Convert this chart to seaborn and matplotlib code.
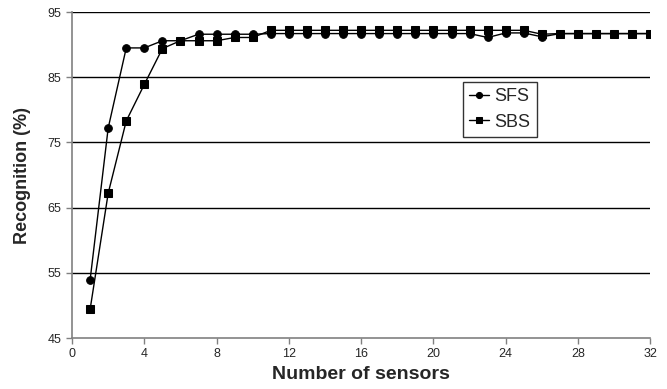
import matplotlib
matplotlib.use("Agg")
import matplotlib.pyplot as plt
import numpy as np
import pandas as pd
import seaborn as sns

# number of sensors selected
n_sensors = list(range(1, 33))

# recognition rate (%)
sfs = [53.9, 77.2, 89.5, 89.5, 90.6, 90.6, 91.6, 91.6, 91.6, 91.6,
       91.7, 91.7, 91.7, 91.7, 91.7, 91.7, 91.7, 91.7, 91.7, 91.7,
       91.7, 91.7, 91.1, 91.8, 91.8, 91.2, 91.7, 91.7, 91.7, 91.7,
       91.7, 91.7]
sbs = [49.4, 67.2, 78.3, 83.9, 89.4, 90.6, 90.6, 90.6, 91.1, 91.1,
       92.2, 92.2, 92.2, 92.2, 92.2, 92.2, 92.2, 92.2, 92.2, 92.2,
       92.2, 92.2, 92.2, 92.2, 92.2, 91.6, 91.7, 91.7, 91.7, 91.7,
       91.7, 91.7]

x_ticks = list(range(0, 33, 4))
y_ticks = [45, 55, 65, 75, 85, 95]

df = pd.DataFrame({
    "sensors": n_sensors * 2,
    "recognition": sfs + sbs,
    "method": ["SFS"] * len(sfs) + ["SBS"] * len(sbs),
})

sns.set_style("white")
plt.rcParams["font.family"] = ["Liberation Sans", "DejaVu Sans"]

fig = plt.figure(figsize=(6.67, 3.89), dpi=100)
ax = fig.add_axes([0.108, 0.131, 0.867, 0.838])

for y in y_ticks[1:]:
    ax.axhline(y, color="black", lw=1.0, zorder=0)

sns.lineplot(
    data=df, x="sensors", y="recognition", style="method",
    markers={"SFS": "o", "SBS": "s"}, dashes=False,
    color="black", lw=1.0, markersize=5.5, markeredgecolor="black",
    ax=ax, legend=True,
)

ax.set_xlim(0, 32)
ax.set_ylim(45, 95)
ax.set_xticks(x_ticks)
ax.set_yticks(y_ticks)
ax.tick_params(axis="both", labelsize=9, direction="out", length=4,
               color="#808080", width=1, left=True, bottom=True)
for side in ["top", "right"]:
    ax.spines[side].set_visible(False)
for side in ["left", "bottom"]:
    ax.spines[side].set_color("#808080")
    ax.spines[side].set_linewidth(1.2)

ax.set_xlabel("Number of sensors", fontsize=14, fontweight="bold", labelpad=4)
ax.set_ylabel("Recognition (%)", fontsize=13, fontweight="bold", labelpad=12)

leg = ax.legend(loc="upper left", bbox_to_anchor=(0.676, 0.785), fontsize=13,
                frameon=True, fancybox=False, handlelength=1.1,
                handletextpad=0.3, borderpad=0.35, labelspacing=0.45,
                borderaxespad=0, markerscale=0.8)
leg.get_frame().set_edgecolor("black")
leg.get_frame().set_linewidth(1.0)
leg.set_title(None)

fig.savefig("out.png", dpi=100)
